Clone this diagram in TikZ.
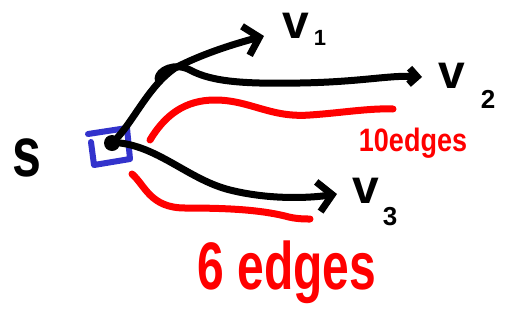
\documentclass[tikz,border=0pt]{standalone}
\usepackage{fontspec}
\setmainfont{Liberation Sans}
\usetikzlibrary{arrows.meta}
\definecolor{inkblue}{RGB}{51,51,204}
\definecolor{inkred}{RGB}{255,0,0}
\tikzset{
  ink/.style={line width=7pt, line cap=round, line join=round},
  blackink/.style={ink, black},
  redink/.style={ink, inkred},
  barb/.style={-{Straight Barb[length=14pt, width=30pt, line width=7pt]}},
  smallbarb/.style={-{Straight Barb[length=8pt, width=16pt, line width=7pt]}},
  lbl/.style={inner sep=0pt, font=\fontsize{48}{50}\selectfont\bfseries},
  idx/.style={inner sep=0pt, font=\fontsize{26}{28}\selectfont\bfseries},
  redlbl/.style={inner sep=0pt, text=inkred, font=\bfseries},
}
\begin{document}
\begin{tikzpicture}[x=1pt, y=-1pt]
\useasboundingbox (0,0) rectangle (506,322);

% source vertex and its frame
\node[lbl, font=\fontsize{52}{54}\selectfont\bfseries, yscale=1.35] (s) at (27,158) {s};
\node[circle, fill=black, minimum size=16pt, inner sep=0pt] (src) at (112,143) {};
\draw[inkblue, line width=6pt, line join=round, line cap=round]
  (88,134) -- (127,128) -- (130,159) -- (94,165) -- (91,142);

% target labels
\node[lbl] (v1) at (296,26) {v};
\node[idx, font=\fontsize{22}{24}\selectfont\bfseries] (v1i) at (320,38) {1};
\node[lbl] (v2) at (452,76) {v};
\node[idx] (v2i) at (488,99) {2};
\node[lbl] (v3) at (366,191) {v};
\node[idx] (v3i) at (390,217) {3};

% arrow tips and free ends
\coordinate (t1) at (264,36);
\coordinate (t2) at (422,77);
\coordinate (t3) at (337,194);
\coordinate (h2) at (158,79);
\coordinate (r1a) at (150,140);
\coordinate (r1b) at (393,109);
\coordinate (r2a) at (132,174);
\coordinate (r2b) at (310,219);

% paths to the three targets
\draw[blackink, barb] (src.north east) .. controls (135,118) and (150,85) .. (175,68)
  .. controls (200,55) and (230,45) .. (t1);
\draw[blackink, smallbarb] (h2) .. controls (158,70) and (175,62) .. (190,70)
  .. controls (212,82) and (245,84) .. (300,83)
  .. controls (360,82) and (390,75) .. (t2);
\draw[blackink, barb] (src.east) .. controls (160,148) and (190,180) .. (230,190)
  .. controls (270,200) and (310,198) .. (t3);

% red path lengths
\draw[redink] (r1a) .. controls (165,115) and (185,100) .. (215,100)
  .. controls (250,100) and (270,118) .. (310,115)
  .. controls (340,113) and (370,108) .. (r1b);
\draw[redink] (r2a) .. controls (145,185) and (150,208) .. (185,208)
  .. controls (230,208) and (260,210) .. (285,216)
  .. controls (295,219) and (305,219) .. (r2b);

\node[redlbl, font=\fontsize{27}{29}\selectfont\bfseries, yscale=1.2] (e10) at (413,143) {10edges};
\node[redlbl, font=\fontsize{48}{50}\selectfont\bfseries, yscale=1.4] (e6) at (287,272) {6 edges};
\end{tikzpicture}
\end{document}
